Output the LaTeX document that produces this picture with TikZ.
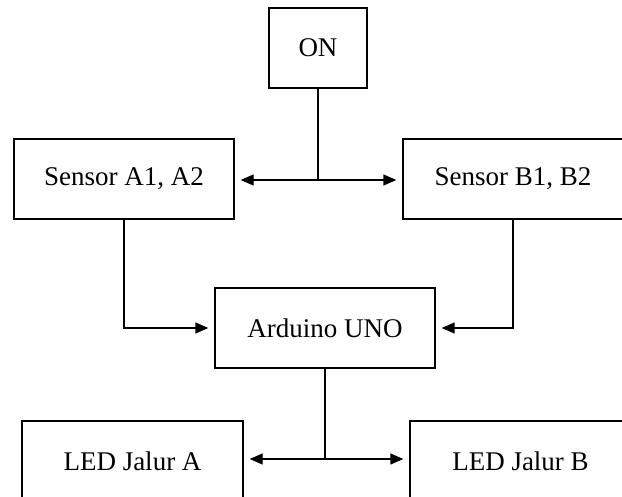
\documentclass[tikz,border=0pt]{standalone}
\usepackage{fontspec}
\setmainfont{Liberation Serif}
\usetikzlibrary{arrows.meta}
\begin{document}
\begin{tikzpicture}[x=1pt,y=-1pt,
  blk/.style={draw=black, line width=1.4pt, rectangle, minimum width=220pt, minimum height=80pt, inner sep=0pt, font=\fontsize{27}{30}\selectfont},
  conn/.style={line width=1.4pt},
  arr/.style={line width=1.4pt, -{Triangle[length=13pt,width=11pt]}, shorten >=6pt}]
\useasboundingbox (0,0) rectangle (622,497);
\clip (0,0) rectangle (622,497);
\node[blk, minimum width=98pt] (on) at (318,48) {ON};
\node[blk] (sa) at (124,179) {Sensor A1, A2\hspace{14pt}};
\node[blk] (sb) at (513,179) {Sensor B1, B2};
\node[blk] (ard) at (325,328) {Arduino UNO};
\node[blk, minimum width=221pt] (la) at (132.5,461) {LED Jalur A};
\node[blk, minimum width=221pt] (lb) at (520.5,461) {LED Jalur B};
\coordinate (j1) at (318,180);
\coordinate (j2) at (325,459);
\draw[conn] (on.south) -- (j1);
\draw[arr] (j1) -- (sa.east |- j1);
\draw[arr] (j1) -- (sb.west |- j1);
\draw[arr] (sa.south) |- (ard.west);
\draw[arr] (sb.south) |- (ard.east);
\draw[conn] (ard.south) -- (j2);
\draw[arr] (j2) -- (la.east |- j2);
\draw[arr] (j2) -- (lb.west |- j2);
\end{tikzpicture}
\end{document}
